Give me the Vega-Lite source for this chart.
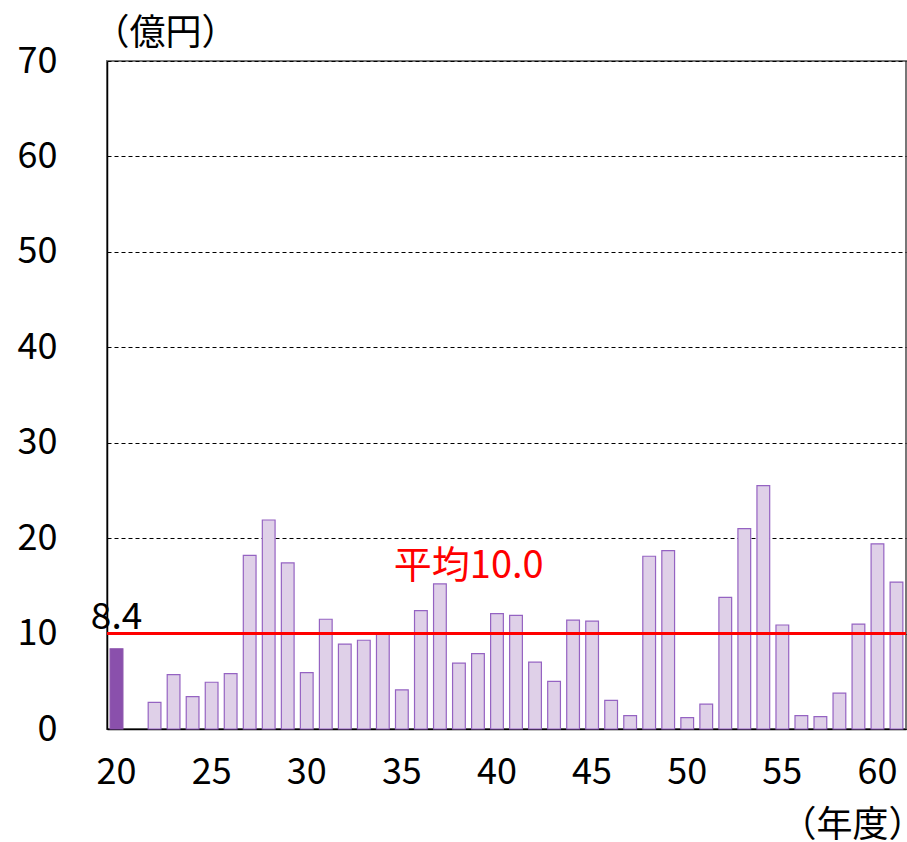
{
  "$schema": "https://vega.github.io/schema/vega-lite/v6.json",
  "autosize": {"type": "none"},
  "padding": {"left": 107, "top": 61, "right": 1, "bottom": 113},
  "width": 799,
  "height": 668,
  "background": "white",
  "config": {
    "view": {"stroke": "#777777", "strokeWidth": 2},
    "font": "Noto Sans CJK JP",
    "axis": {"labelFont": "Noto Sans CJK JP", "titleFont": "Noto Sans CJK JP"}
  },
  "datasets": {
    "bars": [
      {"year": 20, "value": 8.4, "kind": "current"},
      {"year": 22, "value": 2.8, "kind": "past"},
      {"year": 23, "value": 5.7, "kind": "past"},
      {"year": 24, "value": 3.4, "kind": "past"},
      {"year": 25, "value": 4.9, "kind": "past"},
      {"year": 26, "value": 5.8, "kind": "past"},
      {"year": 27, "value": 18.2, "kind": "past"},
      {"year": 28, "value": 21.9, "kind": "past"},
      {"year": 29, "value": 17.4, "kind": "past"},
      {"year": 30, "value": 5.9, "kind": "past"},
      {"year": 31, "value": 11.5, "kind": "past"},
      {"year": 32, "value": 8.9, "kind": "past"},
      {"year": 33, "value": 9.3, "kind": "past"},
      {"year": 34, "value": 10.1, "kind": "past"},
      {"year": 35, "value": 4.1, "kind": "past"},
      {"year": 36, "value": 12.4, "kind": "past"},
      {"year": 37, "value": 15.2, "kind": "past"},
      {"year": 38, "value": 6.9, "kind": "past"},
      {"year": 39, "value": 7.9, "kind": "past"},
      {"year": 40, "value": 12.1, "kind": "past"},
      {"year": 41, "value": 11.9, "kind": "past"},
      {"year": 42, "value": 7.0, "kind": "past"},
      {"year": 43, "value": 5.0, "kind": "past"},
      {"year": 44, "value": 11.4, "kind": "past"},
      {"year": 45, "value": 11.3, "kind": "past"},
      {"year": 46, "value": 3.0, "kind": "past"},
      {"year": 47, "value": 1.4, "kind": "past"},
      {"year": 48, "value": 18.1, "kind": "past"},
      {"year": 49, "value": 18.7, "kind": "past"},
      {"year": 50, "value": 1.2, "kind": "past"},
      {"year": 51, "value": 2.6, "kind": "past"},
      {"year": 52, "value": 13.8, "kind": "past"},
      {"year": 53, "value": 21.0, "kind": "past"},
      {"year": 54, "value": 25.5, "kind": "past"},
      {"year": 55, "value": 10.9, "kind": "past"},
      {"year": 56, "value": 1.4, "kind": "past"},
      {"year": 57, "value": 1.3, "kind": "past"},
      {"year": 58, "value": 3.75, "kind": "past"},
      {"year": 59, "value": 11.0, "kind": "past"},
      {"year": 60, "value": 19.4, "kind": "past"},
      {"year": 61, "value": 15.4, "kind": "past"}
    ],
    "avg": [{"value": 10.0, "label": "平均10.0", "year": 35}],
    "cur": [{"year": 20, "value": 8.4, "label": "8.4"}]
  },
  "layer": [
    {
      "data": {"name": "bars"},
      "mark": {"type": "bar", "strokeWidth": 1.2},
      "encoding": {
        "x": {
          "field": "year", "type": "ordinal",
          "scale": {"domain": [20,21,22,23,24,25,26,27,28,29,30,31,32,33,34,35,36,37,38,39,40,41,42,43,44,45,46,47,48,49,50,51,52,53,54,55,56,57,58,59,60,61], "paddingInner": 0.33, "paddingOuter": 0.165},
          "axis": {
            "values": [20,25,30,35,40,45,50,55,60],
            "labelAngle": 0, "labelFontSize": 36, "labelColor": "black",
            "labelPadding": 26, "ticks": false,
            "domainColor": "black", "domainWidth": 1.5,
            "title": "（年度）", "titleFontSize": 36, "titleFontWeight": "normal",
            "titleColor": "black", "titleAnchor": "end", "titleAlign": "right",
            "titleX": 817, "titleY": 96, "titleBaseline": "middle"
          }
        },
        "y": {
          "field": "value", "type": "quantitative",
          "scale": {"domain": [0, 70], "nice": false},
          "axis": {
            "values": [0,10,20,30,40,50,60,70],
            "labelFontSize": 36, "labelColor": "black", "labelPadding": 50,
            "ticks": false, "domainColor": "black", "domainWidth": 1.5,
            "grid": true, "gridColor": "black", "gridDash": [4, 3], "gridWidth": 1,
            "title": "（億円）", "titleFontSize": 36, "titleFontWeight": "normal",
            "titleColor": "black", "titleAngle": 0, "titleAlign": "left",
            "titleX": -14, "titleY": -28, "titleBaseline": "middle"
          }
        },
        "fill": {
          "field": "kind", "type": "nominal",
          "scale": {"domain": ["current", "past"], "range": ["#8a50ac", "#dfd0e8"]},
          "legend": null
        },
        "stroke": {
          "field": "kind", "type": "nominal",
          "scale": {"domain": ["current", "past"], "range": ["#8a50ac", "#9563c2"]},
          "legend": null
        }
      }
    },
    {
      "data": {"name": "avg"},
      "mark": {"type": "rule", "color": "#ff0000", "strokeWidth": 3},
      "encoding": {
        "y": {"field": "value", "type": "quantitative"}
      }
    },
    {
      "data": {"name": "avg"},
      "mark": {"type": "text", "color": "#ff0000", "fontSize": 38, "align": "left", "baseline": "alphabetic", "dx": -8, "dy": -56},
      "encoding": {
        "x": {"field": "year", "type": "ordinal"},
        "y": {"field": "value", "type": "quantitative"},
        "text": {"field": "label"}
      }
    },
    {
      "data": {"name": "cur"},
      "mark": {"type": "text", "color": "black", "fontSize": 37, "align": "center", "baseline": "alphabetic", "dy": -20},
      "encoding": {
        "x": {"field": "year", "type": "ordinal"},
        "y": {"field": "value", "type": "quantitative"},
        "text": {"field": "label"}
      }
    }
  ]
}
